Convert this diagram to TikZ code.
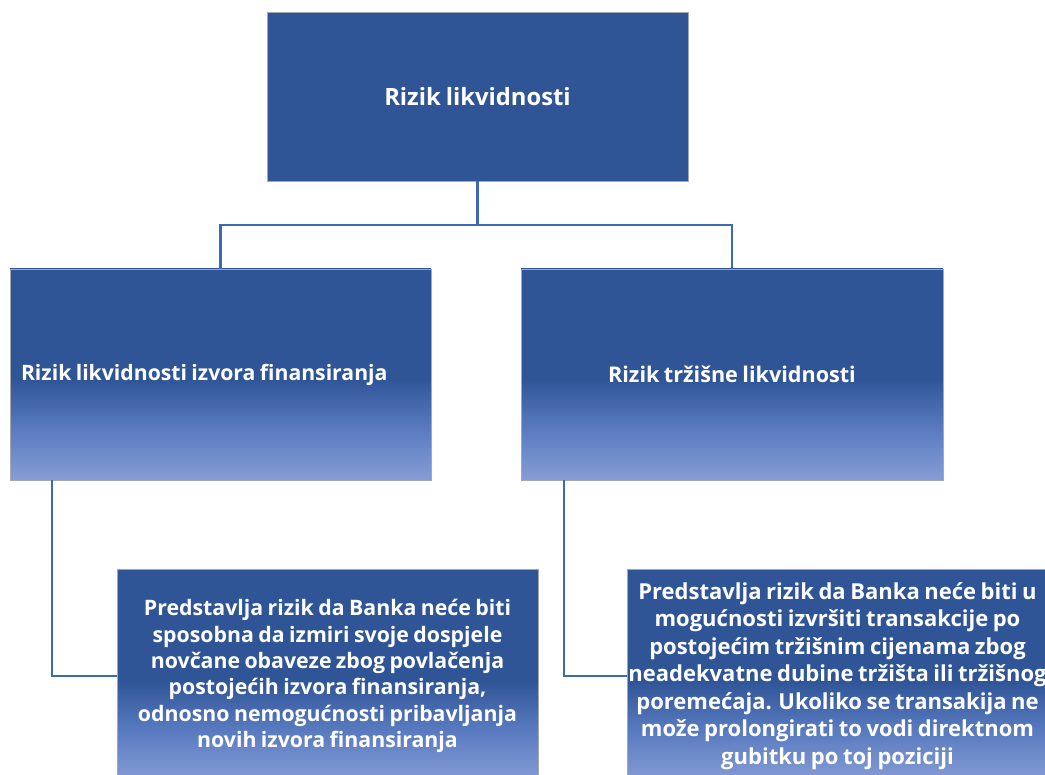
\documentclass[tikz,border=0pt]{standalone}
\usepackage{fontspec}
\setmainfont{Open Sans}[WordSpace=0.8]
\definecolor{dk}{HTML}{2F5597}
\definecolor{md}{HTML}{5A7BC0}
\definecolor{lt}{HTML}{869DD6}
\definecolor{ln}{HTML}{3F68B4}
\definecolor{bd}{HTML}{A4A8AF}
\pgfdeclareverticalshading{boxshade}{100bp}{color(0bp)=(lt); color(25bp)=(lt); color(37bp)=(md); color(49bp)=(dk); color(100bp)=(dk)}
\tikzset{
  topbox/.style={draw=bd, line width=0.8pt, fill=dk, text=white, font=\bfseries\fontsize{23.8}{28}\selectfont, minimum width=421pt, minimum height=169pt, inner sep=0pt},
  gradbox/.style={draw=bd, line width=0.8pt, shading=boxshade, text=white, minimum width=421pt, inner sep=0pt},
  conn/.style={draw=ln, line width=2.2pt}
}
\begin{document}
\begin{tikzpicture}[x=1pt,y=-1pt]
\useasboundingbox (0,0) rectangle (1045,775);
\node[topbox] (top) at (477.5,96.5) {Rizik likvidnosti};
\node[gradbox, minimum height=211pt, text width=399pt, inner xsep=11pt, align=flush left, font=\bfseries\fontsize{21.2}{25}\selectfont] (ml) at (220.5,374.5) {Rizik likvidnosti izvora finansiranja};
\node[gradbox, minimum height=211pt, minimum width=422pt, align=center, font=\bfseries\fontsize{21.6}{25}\selectfont] (mr) at (732,374.5) {Rizik tržišne likvidnosti};
\node[gradbox, minimum height=213pt, align=center, font=\bfseries\fontsize{21.3}{26.4}\selectfont] (bl) at (327.5,676) {Predstavlja rizik da Banka neće biti\\sposobna da izmiri svoje dospjele\\novčane obaveze zbog povlačenja\\postojećih izvora finansiranja,\\odnosno nemogućnosti pribavljanja\\novih izvora finansiranja};
\node[gradbox, minimum height=213pt, align=center, font=\bfseries\fontsize{22}{27.5}\selectfont] (br) at (837.5,676) {Predstavlja rizik da Banka neće biti u\\mogućnosti izvršiti transakcije po\\postojećim tržišnim cijenama zbog\\neadekvatne dubine tržišta ili tržišnog\\poremećaja. Ukoliko se transakija ne\\može prolongirati to vodi direktnom\\gubitku po toj poziciji};
\coordinate (j) at (477.5,225);
\draw[conn] (top.south) -- (j);
\draw[conn] (j) -| (ml.north);
\draw[conn] (j) -| (mr.north);
\draw[conn] ([xshift=42pt]ml.south west) |- (bl.west);
\draw[conn] ([xshift=43pt]mr.south west) |- (br.west);
\end{tikzpicture}
\end{document}
